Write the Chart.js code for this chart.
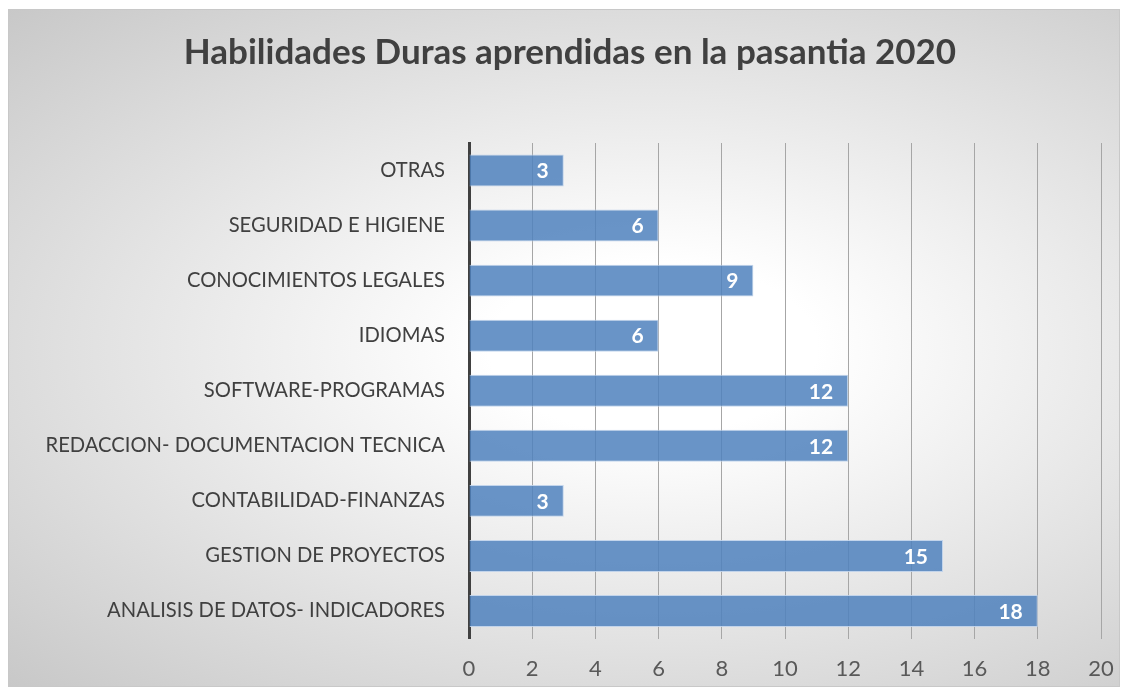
<!DOCTYPE html>
<html>
<head>
<meta charset="utf-8">
<script src="https://cdn.jsdelivr.net/npm/chart.js@4"></script>
<style>
  body { margin: 0; background: #fff; }
  #box {
    position: absolute; left: 8px; top: 9px; width: 1112px; height: 678px;
    box-sizing: border-box; border: 1px solid #c8c8c8;
    background: radial-gradient(ellipse at 58% 50%, #ffffff 18%, #c8c8c8 100%);
  }
  canvas { position: absolute; left: 0; top: 0; }
</style>
</head>
<body>
<div id="box"><canvas id="myChart" width="1112" height="678"></canvas></div>
<script>
const categories = [
  'OTRAS',
  'SEGURIDAD E HIGIENE',
  'CONOCIMIENTOS LEGALES',
  'IDIOMAS',
  'SOFTWARE-PROGRAMAS',
  'REDACCION- DOCUMENTACION TECNICA',
  'CONTABILIDAD-FINANZAS',
  'GESTION DE PROYECTOS',
  'ANALISIS DE DATOS- INDICADORES'
];
const values = [3, 6, 9, 6, 12, 12, 3, 15, 18];
const fontName = 'Lato, "Open Sans", sans-serif';

// white value labels at the inner end of each bar
const barLabels = {
  id: 'barLabels',
  afterDatasetsDraw(chart) {
    const ctx = chart.ctx;
    const meta = chart.getDatasetMeta(0);
    ctx.save();
    ctx.fillStyle = '#ffffff';
    ctx.font = 'bold 21px ' + fontName;
    ctx.textAlign = 'right';
    ctx.textBaseline = 'middle';
    meta.data.forEach((bar, i) => {
      ctx.fillText(String(values[i]), bar.x - 15, bar.y + 1);
    });
    ctx.restore();
  }
};

new Chart(document.getElementById('myChart'), {
  type: 'bar',
  data: {
    labels: categories,
    datasets: [{
      data: values,
      backgroundColor: 'rgba(79,129,189,0.85)',
      borderColor: 'rgba(190,210,235,0.9)',
      borderWidth: 1,
      barPercentage: 0.58,
      categoryPercentage: 1
    }]
  },
  options: {
    indexAxis: 'y',
    responsive: false,
    animation: false,
    layout: { padding: { left: 30, right: 20, top: 0, bottom: 0 } },
    plugins: {
      legend: { display: false },
      tooltip: { enabled: false },
      title: {
        display: true,
        text: 'Habilidades Duras aprendidas en la pasantia 2020',
        color: '#404040',
        font: { family: fontName, size: 35, weight: 'bold' },
        padding: { top: 22, bottom: 69 }
      }
    },
    scales: {
      x: {
        min: 0, max: 20,
        ticks: { stepSize: 2, color: '#595959', padding: 17, font: { family: fontName, size: 22 } },
        grid: { color: '#a6a6a6', lineWidth: 1, drawTicks: false },
        border: { display: false },
        afterFit(scale) {
          scale.height = 49.5;
          scale.paddingLeft = 0;
          scale.paddingRight = 0;
        }
      },
      y: {
        ticks: { color: '#404040', padding: 24, font: { family: fontName, size: 20.2 } },
        grid: { display: true, drawOnChartArea: false, drawTicks: false },
        border: { display: true, color: '#404040', width: 3 },
        afterFit(scale) { scale.width = 430; }
      }
    }
  },
  plugins: [barLabels]
});
</script>
</body>
</html>
